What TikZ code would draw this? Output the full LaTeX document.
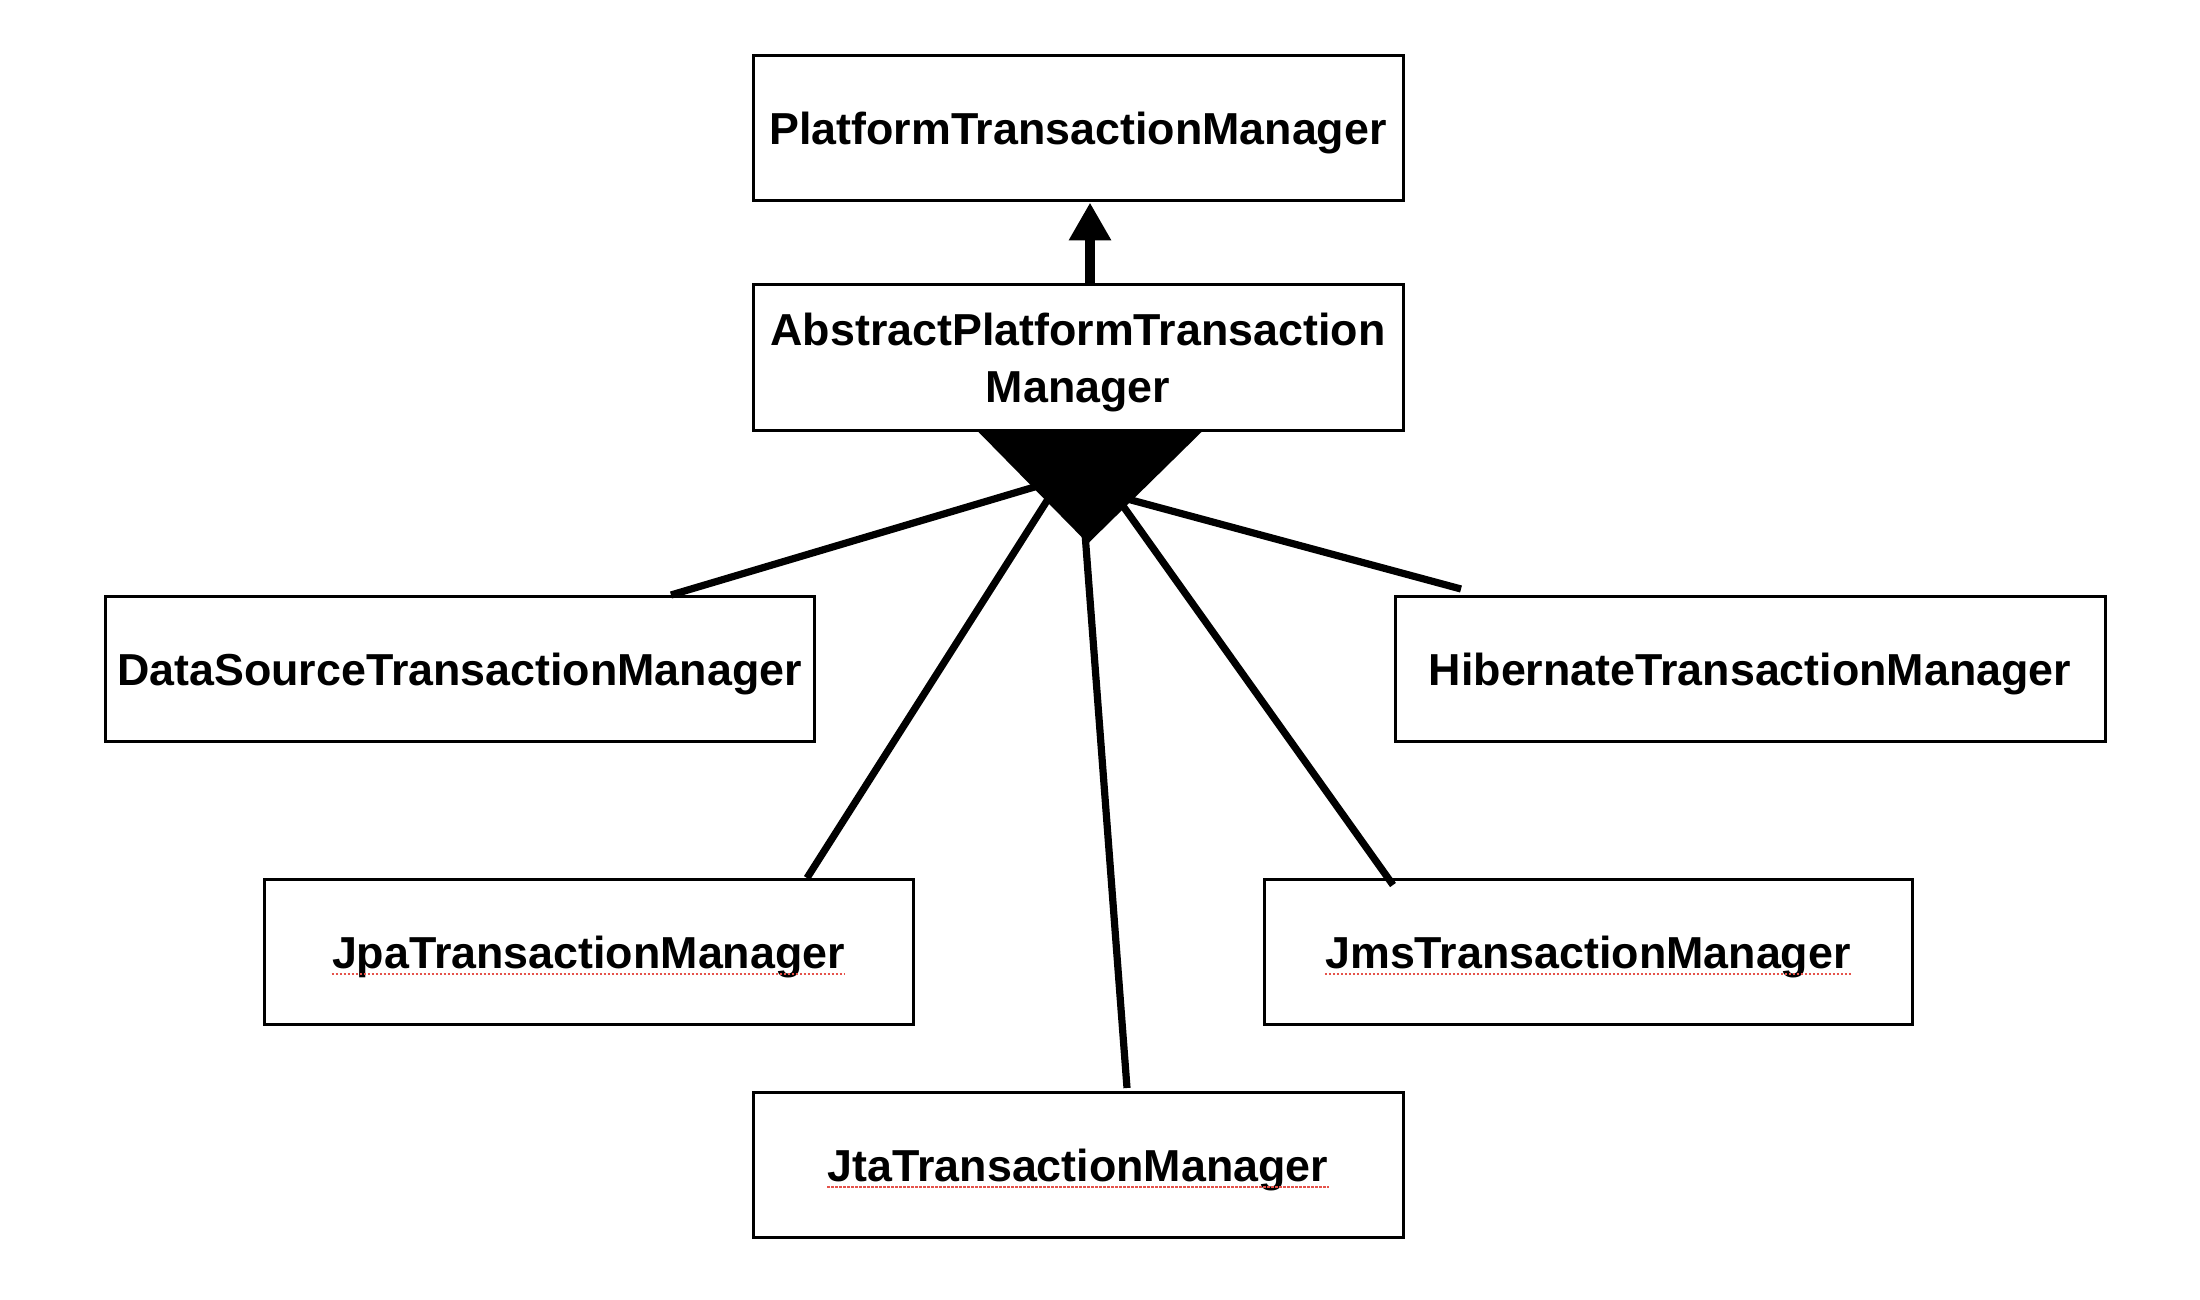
\documentclass[tikz,border=0pt]{standalone}
\usepackage{fontspec}
\setmainfont{Liberation Sans}
\usetikzlibrary{arrows.meta,calc}
\definecolor{spellred}{HTML}{E5534B}
\begin{document}
\begin{tikzpicture}[x=0.5pt,y=-0.5pt,
  lblfont/.style={font=\bfseries\fontsize{22.4pt}{28.6pt}\selectfont},
  oneline/.style={text height=16pt, text depth=0pt},
  box/.style={draw=black, line width=1.5pt, fill=white, inner sep=0pt,
    minimum height=72.5pt, align=center, lblfont},
  txt/.style={inner sep=0pt, lblfont, oneline},
  link/.style={line width=3.6pt},
  spell/.style={draw=spellred, line width=1.1pt, dash pattern=on 1.1pt off 0.9pt}]
\useasboundingbox[fill=white] (0,0) rectangle (2200,1300);

% boxes
\node[box, oneline, minimum width=325pt] (plat) at (1078,128.5) {PlatformTransactionManager};
\node[box, text depth=0pt, minimum width=325pt] (abs) at (1078,357.5) {AbstractPlatformTransaction\\Manager};
\node[box, oneline, minimum width=354.5pt] (ds) at (459.5,669) {DataSourceTransactionManager};
\node[box, oneline, minimum width=355pt] (hib) at (1750,669) {HibernateTransactionManager};
\node[box, minimum width=324.5pt] (jpa) at (588.5,952) {};
\node[txt] (jpaT) at (jpa) {JpaTransactionManager};
\node[box, minimum width=324pt] (jms) at (1588,952) {};
\node[txt] (jmsT) at (jms) {JmsTransactionManager};
\node[box, minimum width=325pt] (jta) at (1078,1165) {};
\node[txt] (jtaT) at (jta) {JtaTransactionManager};

% spell-check underlines
\draw[spell] ([yshift=-3pt]jpaT.base west) -- ([yshift=-3pt]jpaT.base east);
\draw[spell] ([yshift=-3pt]jmsT.base west) -- ([yshift=-3pt]jmsT.base east);
\draw[spell] ([yshift=-3pt]jtaT.base west) -- ([yshift=-3pt]jtaT.base east);

% hub coordinates (hidden under the big triangle)
\coordinate (eDS) at (1044.6,484);
\coordinate (eJpa) at (1057,485);
\coordinate (eJta) at (1084,520);
\coordinate (eJms) at (1114.5,494);
\coordinate (eHib) at (1120,497);

% connectors
\draw[link] ($(ds.north)+(211.5,0)$) -- (eDS);
\draw[link] ($(jpa.north)+(218.5,0)$) -- (eJpa);
\draw[link] ($(jta.north)+(49,-3)$) -- (eJta);
\draw[link] ($(jms.north)+(-195,7)$) -- (eJms);
\draw[link] ($(hib.north)+(-289,-6)$) -- (eHib);

% big filled triangle under the abstract class
\fill[black] ($(abs.south)+(-100,0)$) -- ($(abs.south)+(124,0)$) -- ($(abs.south)+(10,112)$) -- cycle;

% inheritance arrow to the interface
\draw[line width=5pt, -{Triangle[length=19pt,width=20pt]}] ($(abs.north)+(12,0)$) -- ($(plat.south)+(12,0)$);
\end{tikzpicture}
\end{document}
